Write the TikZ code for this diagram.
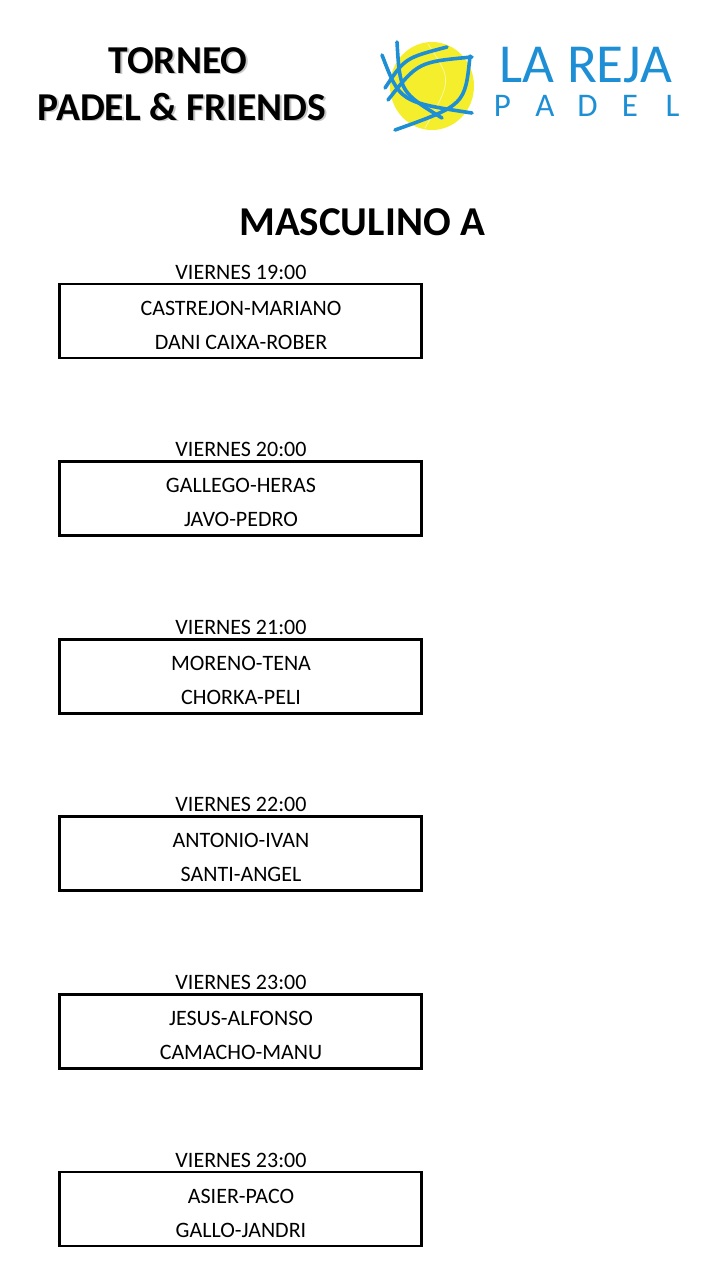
\documentclass[tikz,border=0pt]{standalone}
\usepackage{fontspec}
\setmainfont{Carlito}
\definecolor{rejablue}{HTML}{1E8FD5}
\definecolor{ballyellow}{HTML}{F4EE2C}

\begin{document}
\begin{tikzpicture}[
      x=1pt, y=-1pt,
      title/.style={font=\fontsize{39.5}{42}\selectfont\bfseries, text=black, anchor=base},
      shade/.style={title, text=black!22},
      slot/.style={font=\fontsize{22}{24}\selectfont, anchor=base},
      match/.style={draw, line width=2.8pt, minimum width=362pt, minimum height=74pt,
                    inner sep=0pt},
      stroke/.style={draw=rejablue, line width=3.6pt, line cap=round},
      brand/.style={text=rejablue, anchor=base, inner sep=0pt}
    ]
      \useasboundingbox (0,0) rectangle (720,1280);
      % header
      \node[shade] (torneoshade) at (179.5,74.5) {TORNEO};
      \node[title] (torneo) at (178,73) {TORNEO};
      \node[shade] (padelshade) at (183.5,121.5) {PADEL \& FRIENDS};
      \node[title] (padel) at (182,120) {PADEL \& FRIENDS};
      % logo
      \fill[ballyellow] (432,86) ellipse (42 and 44);
      \draw[white!55!ballyellow, line width=0.8pt] (428,44) .. controls (452,80) .. (425,128);
      \draw[stroke] (397,42) .. controls (400,92) .. (442,118);
      \draw[stroke] (382,55) .. controls (400,102) .. (472,113);
      \draw[stroke] (385,88) .. controls (405,58) .. (447,47);
      \draw[stroke] (388,100) .. controls (418,62) .. (472,57);
      \draw[stroke] (470,56) .. controls (465,105) .. (395,130);
      \node[brand, font=\fontsize{55}{57}\selectfont] (lareja) at (586,82) {LA REJA};
      \foreach \l [count=\k] in {P,A,D,E,L} {
        \node[brand, font=\fontsize{33}{35}\selectfont] (marca\k) at (460+42.5*\k,116) {\l};
      }
      \node[title, font=\fontsize{41}{44}\selectfont\bfseries] (categoria) at (362,235) {MASCULINO A};
      % partidos
      \foreach \hora/\uno/\dos [count=\i] in {
          19:00/CASTREJON-MARIANO/DANI CAIXA-ROBER,
          20:00/GALLEGO-HERAS/JAVO-PEDRO,
          21:00/MORENO-TENA/CHORKA-PELI,
          22:00/ANTONIO-IVAN/SANTI-ANGEL,
          23:00/JESUS-ALFONSO/CAMACHO-MANU,
          23:00/ASIER-PACO/GALLO-JANDRI} {
        \pgfmathsetmacro{\yy}{282.5+177.6*(\i-1)}
        \node[slot] (hora\i) at (241,\yy-3.5) {VIERNES \hora};
        \node[match, anchor=north] (partido\i) at (240.5,\yy) {};
        \node[slot] (uno\i) at (241,\yy+32.5) {\uno};
        \node[slot] (dos\i) at (241,\yy+66.5) {\dos};
      }
    \end{tikzpicture}
\end{document}
